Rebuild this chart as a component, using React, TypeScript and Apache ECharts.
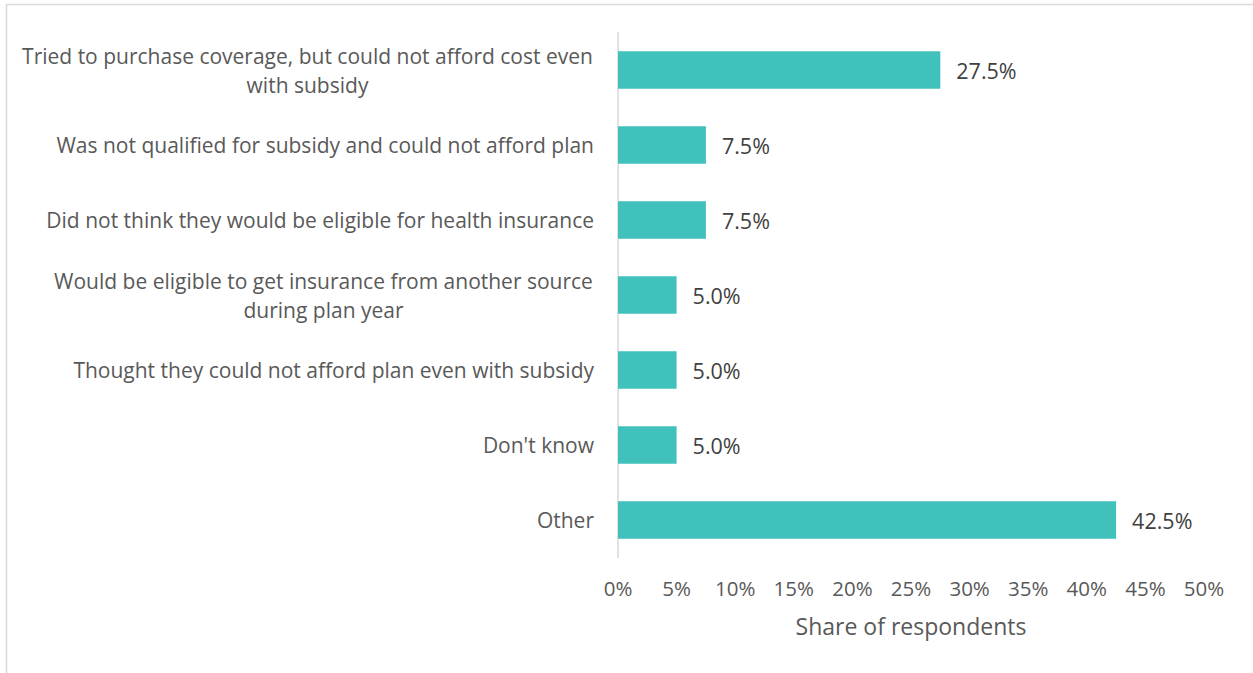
import React, { useEffect, useRef } from "react";
import * as echarts from "echarts";

const categories: string[] = [
  "Tried to purchase coverage, but could not afford cost even\nwith subsidy",
  "Was not qualified for subsidy and could not afford plan",
  "Did not think they would be eligible for health insurance",
  "Would be eligible to get insurance from another source\nduring plan year",
  "Thought they could not afford plan even with subsidy",
  "Don't know",
  "Other",
];
const values: number[] = [27.5, 7.5, 7.5, 5.0, 5.0, 5.0, 42.5];
const axisName = "Share of respondents";

const FONT = "Open Sans";
const LABEL_SIZE = 21;
const LINE_H = 29;

function measure(text: string, size: number): number {
  const c = document.createElement("canvas");
  const ctx = c.getContext("2d");
  if (!ctx) return text.length * size * 0.5;
  ctx.font = `${size}px "${FONT}"`;
  return ctx.measureText(text).width;
}

export default function App() {
  const ref = useRef<HTMLDivElement>(null);
  useEffect(() => {
    document.body.style.margin = "0";
    if (!ref.current) return;
    const chart = echarts.init(ref.current, null, { renderer: "svg" });
    const rich: Record<string, any> = {};
    const keyOf: Record<string, string> = {};
    categories.forEach((cat, i) => {
      const lines = cat.split("\n");
      if (lines.length > 1) {
        const w = Math.ceil(Math.max(...lines.map((l) => measure(l, LABEL_SIZE)))) + 2;
        rich["c" + i] = {
          width: w,
          align: "center",
          color: "#595959",
          fontSize: LABEL_SIZE,
          fontFamily: FONT,
          lineHeight: LINE_H,
        };
        keyOf[cat] = "c" + i;
      }
    });
    chart.setOption({
      animation: false,
      backgroundColor: "#ffffff",
      textStyle: { fontFamily: FONT },
      graphic: [
        {
          type: "rect",
          shape: { x: 6.5, y: 4.5, width: 1260, height: 700 },
          style: { fill: "none", stroke: "#d9d9d9", lineWidth: 1.5 },
          silent: true,
          z: -1,
        },
      ],
      grid: { left: 618, right: 49, top: 32.5, bottom: 115.5, containLabel: false },
      xAxis: {
        type: "value",
        min: 0,
        max: 50,
        interval: 5,
        axisLine: { show: false },
        axisTick: { show: false },
        splitLine: { show: false },
        axisLabel: {
          formatter: "{value}%",
          color: "#595959",
          fontSize: 20.5,
          fontFamily: FONT,
          margin: 20,
        },
        name: axisName,
        nameLocation: "middle",
        nameGap: 57,
        nameTextStyle: { color: "#595959", fontSize: 23, fontFamily: FONT },
      },
      yAxis: {
        type: "category",
        inverse: true,
        data: categories,
        axisLine: { show: true, lineStyle: { color: "#d9d9d9", width: 1.5 } },
        axisTick: { show: false },
        axisLabel: {
          color: "#595959",
          fontSize: LABEL_SIZE,
          fontFamily: FONT,
          margin: 24,
          lineHeight: LINE_H,
          align: "right",
          formatter: (v: string) => {
            const k = keyOf[v];
            if (!k) return v;
            return v
              .split("\n")
              .map((l) => `{${k}|${l}}`)
              .join("\n");
          },
          rich,
        },
      },
      series: [
        {
          type: "bar",
          data: values,
          barCategoryGap: "50%",
          itemStyle: { color: "#41c1bc" },
          label: {
            show: true,
            position: "right",
            distance: 16,
            formatter: (p: any) => `${Number(p.value).toFixed(1)}%`,
            color: "#404040",
            fontSize: 21.5,
            fontFamily: FONT,
          },
        },
      ],
    });
    return () => chart.dispose();
  }, []);
  return <div ref={ref} style={{ width: 1253, height: 673 }} />;
}
